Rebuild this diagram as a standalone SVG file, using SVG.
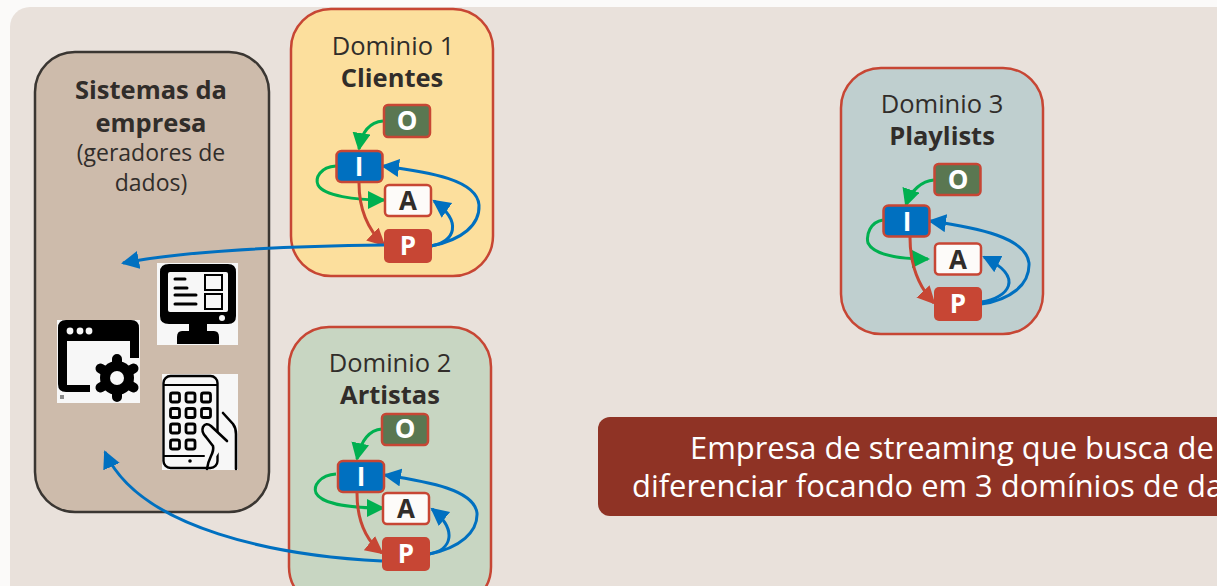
<svg xmlns="http://www.w3.org/2000/svg" width="1217" height="586" viewBox="0 0 1217 586">
<style>
text{font-family:"Open Sans","Noto Sans","Liberation Sans",sans-serif;fill:#312d2a}
.t{font-size:25.500px;text-anchor:middle}
.s{font-size:23px}
.b{font-weight:700}
.dom{stroke:#c74634;stroke-width:2.5}
.nl{font-size:26px;font-weight:700;text-anchor:middle}
.w{fill:#fff}
.big{font-size:30.900px}
.nb{stroke:#c74634;stroke-width:2.5}
.c{fill:none;stroke-width:3}
.g{stroke:#00b050;marker-end:url(#mg)}
.bl{stroke:#0070c0;marker-end:url(#mb)}
.r{stroke:#c74634;marker-end:url(#mr)}
.ink{fill:#000}
.ibg{fill:#f7f7f7}
.l{fill:none;stroke:#000;stroke-linecap:round}
</style>
<defs>
<marker id="mg" markerUnits="userSpaceOnUse" markerWidth="20" markerHeight="20" refX="16" refY="9" orient="auto"><path d="M0,0L18,9L0,18z" fill="#00b050"/></marker>
<marker id="mb" markerUnits="userSpaceOnUse" markerWidth="20" markerHeight="20" refX="16" refY="9" orient="auto"><path d="M0,0L18,9L0,18z" fill="#0070c0"/></marker>
<marker id="mr" markerUnits="userSpaceOnUse" markerWidth="20" markerHeight="20" refX="16" refY="9" orient="auto"><path d="M0,0L18,9L0,18z" fill="#c74634"/></marker>
</defs>
<rect x="0" y="0" width="1217" height="586" fill="#fbfaf9"/>
<rect x="10" y="7" width="1230" height="600" rx="20" fill="#e9e1db"/>

<g id="sistemas">
<rect x="35" y="52" width="234" height="460" rx="40" fill="#cdbbab" stroke="#3a3632" stroke-width="2.5"/>
<text class="t b" x="151" y="99">Sistemas da</text>
<text class="t b" x="151" y="132">empresa</text>
<text class="t s" x="151" y="161">(geradores de</text>
<text class="t s" x="151" y="191">dados)</text>
</g>

<g id="icone-monitor">
<rect class="ibg" x="157" y="263" width="81" height="82"/>
<path class="ink" d="M169,264H228Q236,264 236,272V316Q236,324 228,324H207V331H214Q219,331 219,337V344H177V337Q177,331 182,331H189V324H169Q160,324 160,316V272Q160,264 169,264z"/>
<rect class="ibg" x="168" y="272" width="60" height="40" rx="2"/>
<circle class="ibg" cx="222" cy="318" r="3"/>
<path class="l" stroke-width="3" d="M175,279H185M175,288H187M175,295H196M175,304H196"/>
<rect x="205" y="275" width="17" height="15" fill="none" stroke="#000" stroke-width="2"/>
<rect x="205" y="294" width="17" height="15" fill="none" stroke="#000" stroke-width="2"/>
</g>

<g id="icone-app">
<rect class="ibg" x="57" y="320" width="83" height="83"/>
<path class="ink" d="M66,320H131Q139,320 139,328V358H130V341H67V385H90V392H66Q58,392 58,384V328Q58,320 66,320z"/>
<circle class="ibg" cx="70" cy="331" r="3.400"/>
<circle class="ibg" cx="80" cy="331" r="3.400"/>
<circle class="ibg" cx="89" cy="331" r="3.400"/>
<circle class="ink" cx="117" cy="378" r="17"/>
<path d="M117,359V397M100.500,368.500L133.500,387.500M100.500,387.500L133.500,368.500" stroke="#000" stroke-width="10" stroke-linecap="round"/>
<circle class="ibg" cx="117" cy="378" r="7"/>
<rect x="60" y="395" width="4" height="4" fill="#8a8a8a"/>
</g>

<g id="icone-celular">
<rect class="ibg" x="162" y="374" width="76" height="96"/>
<rect x="163.500" y="376" width="54" height="92" rx="7" fill="none" stroke="#000" stroke-width="2.400"/>
<path class="l" stroke-width="2" d="M164,385H217M164,456H204"/>
<circle class="ink" cx="190" cy="461" r="1.800"/>
<g fill="none" stroke="#000" stroke-width="2.800">
<rect x="170.500" y="393" width="9" height="9" rx="2"/><rect x="186" y="393" width="9" height="9" rx="2"/><rect x="201.500" y="393" width="9" height="9" rx="2"/>
<rect x="170.500" y="408.500" width="9" height="9" rx="2"/><rect x="186" y="408.500" width="9" height="9" rx="2"/><rect x="201.500" y="408.500" width="9" height="9" rx="2"/>
<rect x="170.500" y="424" width="9" height="9" rx="2"/><rect x="186" y="424" width="9" height="9" rx="2"/>
<rect x="170.500" y="440" width="9" height="9" rx="2"/><rect x="186" y="440" width="9" height="9" rx="2"/>
</g>
<path fill="#f7f7f7" stroke="#000" stroke-width="2.600" stroke-linecap="round" d="M227,441L211,426Q206,422 203,427Q201,432 206,437L213,446Q214,450 211,456Q208,462 207,469"/>
<path class="l" stroke-width="2.600" d="M223,413L233,424Q236,428 236,434V469"/>
</g>

<g id="dominio1">
<rect class="dom" x="291" y="9" width="202" height="267" rx="40" fill="#fcdf9d"/>
<text class="t" x="393" y="55">Dominio 1</text>
<text class="t b" x="392" y="87">Clientes</text>
</g>
<g id="dominio2">
<rect class="dom" x="289" y="327" width="202" height="280" rx="40" fill="#c8d6c2"/>
<text class="t" x="390" y="372">Dominio 2</text>
<text class="t b" x="390" y="404">Artistas</text>
</g>
<g id="dominio3">
<rect class="dom" x="841" y="68" width="202" height="266" rx="40" fill="#bfcfcf"/>
<text class="t" x="942" y="113">Dominio 3</text>
<text class="t b" x="942" y="145">Playlists</text>
</g>

<g id="titulo">
<rect x="598" y="417" width="640" height="99" rx="12" fill="#8f3325"/>
<text class="w big" x="690" y="459">Empresa de streaming que busca de</text>
<text class="w big" x="632" y="497">diferenciar focando em 3 domínios de da</text>
</g>

<g id="conectores">
<path class="c g" d="M383,121C371,122 362,130 359,149"/>
<path class="c g" d="M336,166C320,167 315,178 318,185C324,196 355,200 384,200"/>
<path class="c r" d="M359,183C359,205 366,228 384,245"/>
<path class="c bl" d="M431,246C462,240 480,225 479,205C477,180 430,172 383,166"/>
<path class="c bl" d="M431,246C455,242 463,222 434,201"/>
<path class="c bl" d="M384,245C300,246 190,250 123,263"/>

<path class="c g" d="M382,429C370,430 361,440 357,459"/>
<path class="c g" d="M336,474C320,475 313,486 316,493C322,505 355,508 383,508"/>
<path class="c r" d="M357,493C357,515 363,538 382,553"/>
<path class="c bl" d="M429,554C460,548 478,532 477,513C474,490 430,482 385,475"/>
<path class="c bl" d="M429,554C452,550 458,530 432,509"/>
<path class="c bl" d="M382,561C280,556 140,530 105,452"/>

<path class="c g" d="M934,180C922,181 911,190 906,205"/>
<path class="c g" d="M883,220C870,222 866,235 868,243C874,255 900,259 928,259"/>
<path class="c r" d="M910,237C910,262 917,285 934,303"/>
<path class="c bl" d="M981,304C1010,300 1030,285 1029,263C1026,238 980,228 930,221"/>
<path class="c bl" d="M981,302C1008,298 1026,278 984,257"/>
</g>

<g id="d1-O"><rect class="nb" x="384" y="105" width="46" height="32" rx="4" fill="#5a7751"/><text class="nl w" x="407" y="130">O</text></g>
<g id="d1-I"><rect class="nb" x="336.500" y="151" width="46" height="31" rx="5" fill="#0070c0"/><text class="nl w" x="359" y="176">I</text></g>
<g id="d1-A"><rect class="nb" x="385" y="185" width="46" height="31" rx="4" fill="#fdfbf9"/><text class="nl" x="408" y="210">A</text></g>
<g id="d1-P"><rect x="384" y="229" width="48" height="34" rx="5" fill="#c74634"/><text class="nl w" x="408" y="255">P</text></g>

<g id="d2-O"><rect class="nb" x="382" y="414" width="46" height="31" rx="4" fill="#5a7751"/><text class="nl w" x="405" y="438">O</text></g>
<g id="d2-I"><rect class="nb" x="338" y="461" width="46" height="31" rx="5" fill="#0070c0"/><text class="nl w" x="361" y="486">I</text></g>
<g id="d2-A"><rect class="nb" x="383" y="493" width="46" height="31" rx="4" fill="#fdfbf9"/><text class="nl" x="406" y="518">A</text></g>
<g id="d2-P"><rect x="382" y="537" width="48" height="34" rx="5" fill="#c74634"/><text class="nl w" x="406" y="563">P</text></g>

<g id="d3-O"><rect class="nb" x="934.500" y="164" width="46" height="31" rx="4" fill="#5a7751"/><text class="nl w" x="958" y="189">O</text></g>
<g id="d3-I"><rect class="nb" x="883.500" y="205.500" width="46" height="31" rx="5" fill="#0070c0"/><text class="nl w" x="907" y="231">I</text></g>
<g id="d3-A"><rect class="nb" x="935" y="243.500" width="46" height="31" rx="4" fill="#fdfbf9"/><text class="nl" x="958" y="269">A</text></g>
<g id="d3-P"><rect x="934" y="287" width="48" height="34" rx="5" fill="#c74634"/><text class="nl w" x="958" y="313">P</text></g>
</svg>
